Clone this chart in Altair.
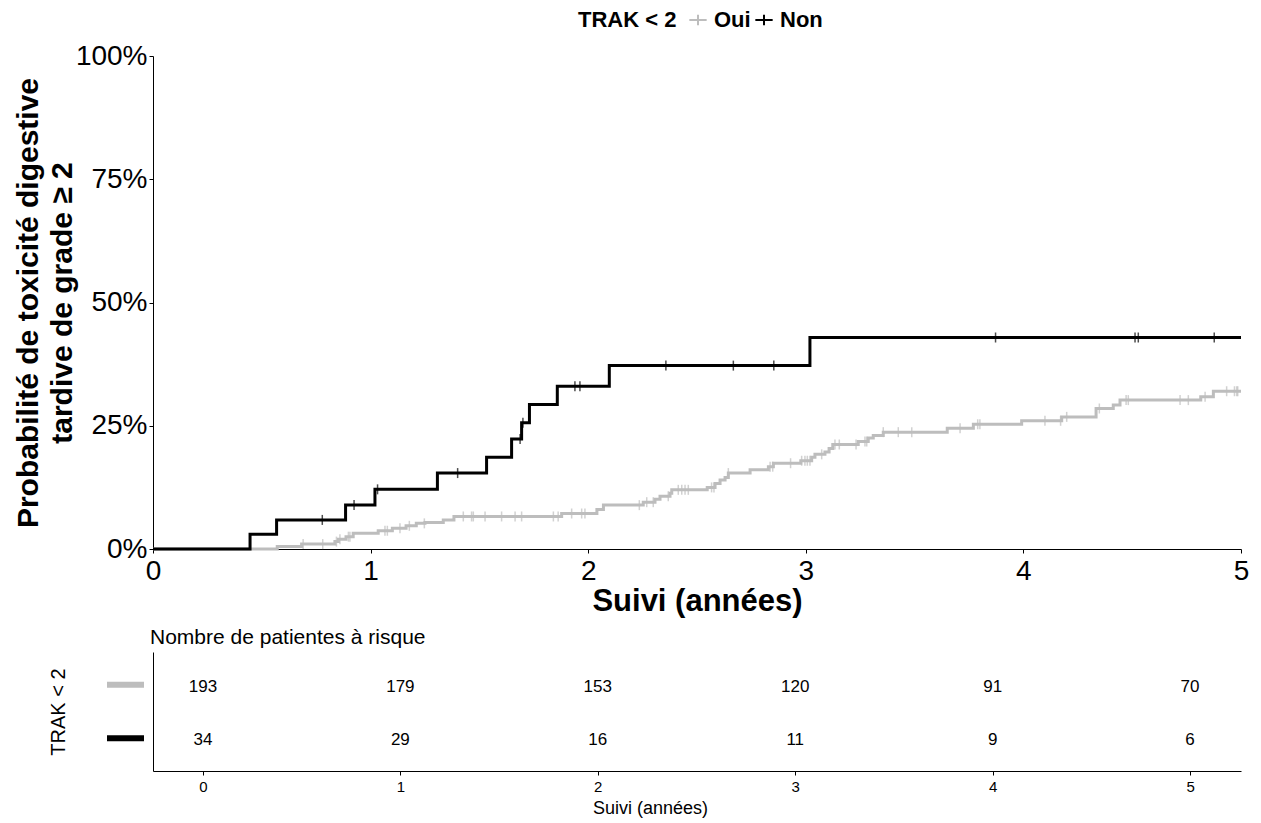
import altair as alt
import numpy as np
import pandas as pd

# ---------------- data ----------------
groups = ["Oui", "Non"]
group_colors = ["#BDBDBD", "#000000"]

non_t = [0.0, 0.446, 0.568, 0.885, 1.020, 1.307, 1.533, 1.648, 1.694, 1.730, 1.858, 2.097, 3.019, 5.0]
non_p = [0.0, 0.030, 0.059, 0.089, 0.121, 0.154, 0.186, 0.223, 0.256, 0.293, 0.330, 0.372, 0.429, 0.429]
non_cens = [0.778, 0.924, 1.032, 1.400, 1.687, 1.700, 1.939, 1.962, 2.357, 2.667, 2.853,
            3.872, 4.513, 4.528, 4.877]

oui_t = [0.0, 0.571, 0.683, 0.836, 0.852, 0.887, 0.920, 1.035, 1.100, 1.163, 1.210, 1.250,
         1.334, 1.383, 1.878, 2.040, 2.070, 2.253, 2.307, 2.330, 2.376, 2.384, 2.547, 2.583,
         2.606, 2.629, 2.644, 2.744, 2.828, 2.851, 2.977, 3.027, 3.042, 3.088, 3.107, 3.124,
         3.241, 3.287, 3.310, 3.356, 3.650, 3.770, 3.992, 4.176, 4.334, 4.413, 4.444, 4.815,
         4.873, 5.0]
oui_p = [0.0, 0.005, 0.010, 0.015, 0.020, 0.025, 0.032, 0.037, 0.042, 0.047, 0.052, 0.054,
         0.059, 0.066, 0.072, 0.080, 0.089, 0.095, 0.101, 0.107, 0.113, 0.120, 0.125, 0.133,
         0.140, 0.145, 0.154, 0.161, 0.167, 0.174, 0.179, 0.186, 0.192, 0.197, 0.204, 0.212,
         0.218, 0.225, 0.230, 0.237, 0.245, 0.253, 0.260, 0.268, 0.285, 0.292, 0.302, 0.309,
         0.320, 0.320]
oui_cens = [0.690, 0.780, 0.843, 0.859, 0.898, 0.905, 1.066, 1.077, 1.135, 1.178, 1.247,
            1.426, 1.464, 1.472, 1.526, 1.602, 1.664, 1.694, 1.840, 1.862, 1.924, 1.970, 1.985,
            2.235, 2.269, 2.299, 2.368, 2.414, 2.430, 2.445, 2.460, 2.567, 2.578, 2.644,
            2.836, 2.848, 2.930, 2.981, 2.996, 3.007, 3.019, 3.073, 3.134, 3.154, 3.231,
            3.272, 3.280, 3.356, 3.425, 3.487, 3.709, 3.790, 3.800, 4.099, 4.171, 4.199,
            4.349, 4.472, 4.482, 4.720, 4.758, 4.835, 4.934, 4.970, 4.980, 4.985]

risk_times = [0, 1, 2, 3, 4, 5]
risk_oui = [193, 179, 153, 120, 91, 70]
risk_non = [34, 29, 16, 11, 9, 6]

# ---------------- tables ----------------
steps = pd.concat([
    pd.DataFrame({"t": oui_t, "p": oui_p, "grp": "Oui"}),
    pd.DataFrame({"t": non_t, "p": non_p, "grp": "Non"}),
])

def cens_frame(ts, ps, cs, g):
    ts = np.asarray(ts)
    idx = np.searchsorted(ts, np.asarray(cs), side="right") - 1
    return pd.DataFrame({"t": cs, "p": np.asarray(ps)[idx], "grp": g})

cens = pd.concat([cens_frame(oui_t, oui_p, oui_cens, "Oui"),
                  cens_frame(non_t, non_p, non_cens, "Non")])

risk = pd.concat([
    pd.DataFrame({"t": risk_times, "n": risk_oui, "grp": "Oui"}),
    pd.DataFrame({"t": risk_times, "n": risk_non, "grp": "Non"}),
])

FONT = "Liberation Sans"

xscale = alt.Scale(domain=[0, 5], nice=False, zero=False)
yscale = alt.Scale(domain=[0, 1], nice=False)
cscale = alt.Scale(domain=groups, range=group_colors)

legend = alt.Legend(
    title="TRAK < 2", orient="none", legendX=425, legendY=-47,
    direction="horizontal", titleOrient="left", titleFontSize=22, titleFontWeight="bold",
    titleColor="black", labelFontSize=22, labelFontWeight="bold", labelColor="black",
    symbolType="M-1,0H1M0,-0.6V0.6", symbolSize=300, symbolStrokeWidth=2,
    columnPadding=0, labelOffset=5, titlePadding=10,
)

xax = alt.Axis(values=[0, 1, 2, 3, 4, 5], format="d", title="Suivi (années)",
               titleFontSize=31, titleFontWeight="bold", labelFontSize=28,
               tickSize=4, labelPadding=4, titlePadding=1, domainColor="black",
               tickColor="black", labelColor="black", titleColor="black", grid=False,
               labelFlush=False)
yax = alt.Axis(values=[0, 0.25, 0.5, 0.75, 1], format=".0%",
               title=["Probabilité de toxicité digestive", "tardive de grade ≥ 2"],
               titleFontSize=30, titleFontWeight="bold", labelFontSize=28,
               tickSize=4, labelPadding=2, titlePadding=-2, domainColor="black",
               tickColor="black", labelColor="black", titleColor="black", grid=False,
               titleLineHeight=34)

base = alt.Chart(steps)
lines = []
for g in groups:
    lines.append(
        base.transform_filter(alt.datum.grp == g).mark_line(
            interpolate="step-after", strokeWidth=3
        ).encode(
            x=alt.X("t:Q", scale=xscale, axis=xax),
            y=alt.Y("p:Q", scale=yscale, axis=yax),
            color=alt.Color("grp:N", scale=cscale, legend=legend),
        )
    )

ticks = alt.Chart(cens).mark_tick(orient="vertical", size=10, thickness=1.5).encode(
    x=alt.X("t:Q", scale=xscale),
    y=alt.Y("p:Q", scale=yscale),
    color=alt.Color("grp:N", scale=cscale, legend=None),
)

main = alt.layer(*lines, ticks).properties(width=1088, height=493)

# ---------------- risk table ----------------
tx = alt.Scale(domain=[-0.253, 5.258], nice=False, zero=False)
ty = alt.Scale(domain=groups, paddingInner=0, paddingOuter=0.11)

txax = alt.Axis(values=[0, 1, 2, 3, 4, 5], format="d", title="Suivi (années)",
                titleFontSize=18, titleFontWeight="normal", labelFontSize=15,
                tickSize=4, labelPadding=4, titlePadding=5, domainColor="black",
                tickColor="black", labelColor="black", titleColor="black", grid=False,
                titleX=497)
tyax = alt.Axis(labels=False, ticks=False, title="TRAK < 2", titleFontSize=20,
                titleFontWeight="normal", titleColor="black", domainColor="black",
                minExtent=0, titlePadding=85, grid=False)

rtext = alt.Chart(risk).mark_text(fontSize=17, color="black", baseline="middle", dy=2).encode(
    x=alt.X("t:Q", scale=tx, axis=txax),
    y=alt.Y("grp:N", scale=ty, axis=tyax, sort=groups),
    text="n:Q",
)
rbars = alt.Chart(risk).transform_filter(alt.datum.t == 0).mark_rule(strokeWidth=6).encode(
    x=alt.value(-46), x2=alt.value(-9),
    y=alt.Y("grp:N", scale=ty, sort=groups),
    color=alt.Color("grp:N", scale=cscale, legend=None),
)

table = alt.layer(rbars, rtext).properties(
    width=1088, height=119,
    title=alt.TitleParams("Nombre de patientes à risque", anchor="start", fontSize=21,
                          fontWeight="normal", color="black", offset=4, frame="group", dx=-3),
)

chart = alt.vconcat(main, table, spacing=103, bounds="flush").resolve_scale(
    color="independent").resolve_legend(color="independent").properties(
    padding={"left": 5, "top": 1, "right": 2, "bottom": 5}).configure(
    font=FONT).configure_view(stroke=None)

chart.save("out.html", embed_options={"renderer": "svg", "actions": False})
